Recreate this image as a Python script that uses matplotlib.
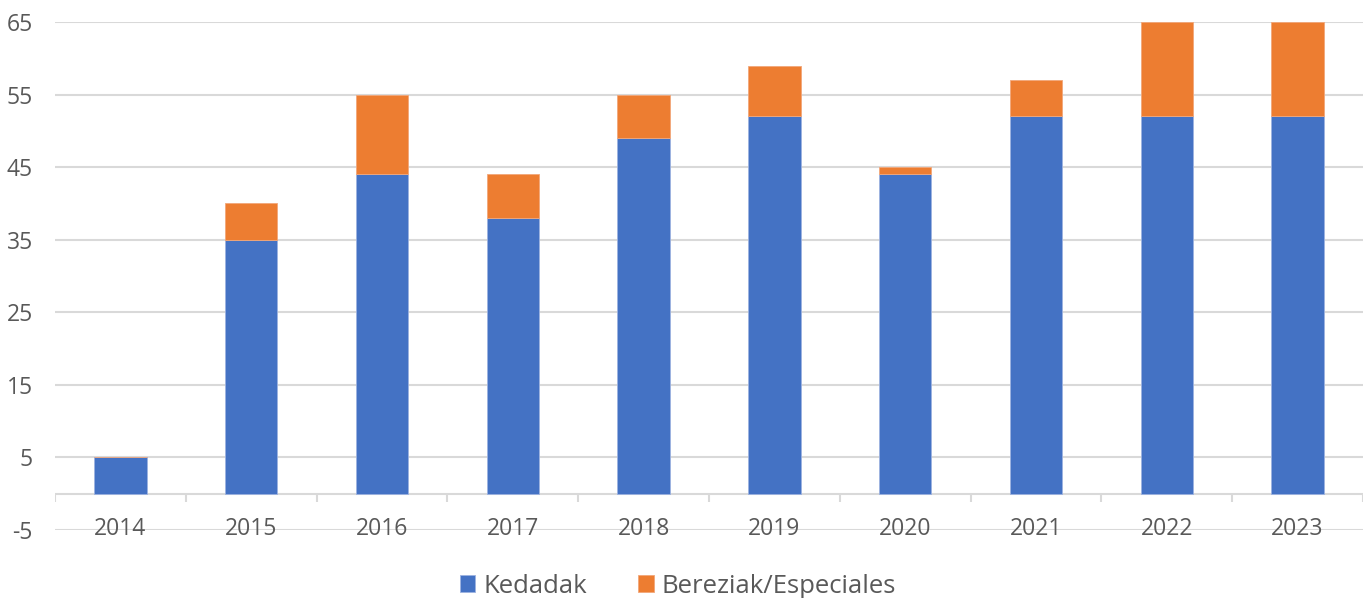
import matplotlib as mpl
mpl.use('Agg')
import matplotlib.pyplot as plt
import numpy as np

plt.rcParams['font.family'] = ['Open Sans', 'DejaVu Sans']

# data
years = ['2014', '2015', '2016', '2017', '2018', '2019', '2020', '2021', '2022', '2023']
kedadak = [5, 35, 44, 38, 49, 52, 44, 52, 52, 52]
bereziak = [0, 5, 11, 6, 6, 7, 1, 5, 13, 13]
yticks = [-5, 5, 15, 25, 35, 45, 55, 65]

blue = '#4472C4'
orange = '#ED7D31'
grid = '#D9D9D9'
txt = '#595959'

fig = plt.figure(figsize=(13.72, 5.98), dpi=100)
ax = fig.add_axes([0.0401, 0.1137, 0.9533, 0.8495])

x = np.arange(len(years))
ax.bar(x, kedadak, width=0.4, color=blue, edgecolor='#9DB3E0', linewidth=0.6,
       label='Kedadak', zorder=3)
ax.bar(x, bereziak, width=0.4, bottom=kedadak, color=orange, edgecolor='#F2A77A',
       linewidth=0.6, label='Bereziak/Especiales', zorder=3)

ax.set_xlim(-0.5, len(years) - 0.5)
ax.set_ylim(-5, 65)
ax.set_yticks(yticks)
ax.set_yticklabels([str(v) for v in yticks], fontsize=16.5, color=txt)
ax.tick_params(axis='y', length=0, pad=16)
for v in yticks:
    ax.axhline(v, color=grid, lw=1.5, zorder=1)

# category axis crosses at zero
ax.axhline(0, color=grid, lw=1.5, zorder=2)
ax.vlines(np.arange(len(years) + 1) - 0.5, -1.1, 0, color=grid, lw=1.5, zorder=2)
ax.set_xticks([])
for i, yr in enumerate(years):
    ax.text(i, -4.8, yr, ha='center', va='center', fontsize=16.5, color=txt)

for s in ax.spines.values():
    s.set_visible(False)

fig.legend(loc='center', bbox_to_anchor=(0.494, 0.02), ncol=2, frameon=False,
           fontsize=18.5, labelcolor=txt, handlelength=0.6, handleheight=0.6,
           handletextpad=0.3, columnspacing=2.0)

plt.savefig('out.png', dpi=100)
